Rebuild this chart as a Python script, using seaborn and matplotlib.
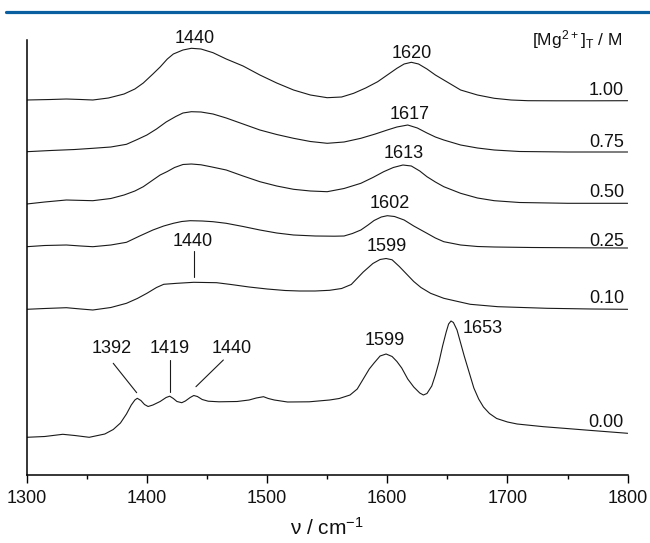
import numpy as np
import pandas as pd
import matplotlib
matplotlib.use("Agg")
import matplotlib.pyplot as plt
from matplotlib.lines import Line2D
import seaborn as sns

# ---- data (stacked intensities, arbitrary units) ----
conc_labels = ["1.00", "0.75", "0.50", "0.25", "0.10", "0.00"]

wn_100 = [1300, 1320, 1333, 1345, 1355, 1368, 1381, 1390, 1397, 1405, 1411, 1417, 1422, 1430, 1437, 1445,
          1455, 1466, 1480, 1494, 1508, 1522, 1536, 1550, 1562, 1572, 1582, 1592, 1600, 1608, 1614, 1620,
          1626, 1633, 1640, 1647, 1654, 1661, 1675, 1689, 1703, 1717, 1740, 1770, 1800]
px_100 = [100, 99.5, 99, 99.5, 100, 98, 94, 89, 83, 74, 67, 59, 54, 50, 48.3, 49,
          52.7, 59, 66, 75, 83, 90, 95, 97.7, 97, 93.3, 88, 81.7, 75, 68.3, 64, 62.3,
          64, 69, 75, 80, 85, 90, 95, 98.3, 100, 100.7, 100.8, 100.8, 100.7]

wn_075 = [1300, 1320, 1340, 1355, 1370, 1383, 1392, 1400, 1408, 1416, 1424, 1430, 1437, 1445, 1455, 1466,
          1480, 1494, 1508, 1522, 1536, 1550, 1564, 1578, 1590, 1600, 1608, 1617, 1625, 1633, 1640, 1647,
          1661, 1675, 1689, 1710, 1750, 1800]
px_075 = [151.7, 150.5, 149.5, 148.3, 147, 144.3, 139.5, 135, 129, 122, 116.5, 113, 111.7, 112, 114, 118,
          124, 130, 134.5, 138.3, 141.5, 143.3, 142, 138.3, 134, 130, 127, 125, 128, 133, 137, 140,
          145, 148, 150, 151.5, 152, 152]

wn_050 = [1300, 1315, 1333, 1355, 1370, 1381, 1390, 1397, 1405, 1411, 1417, 1423, 1430, 1437, 1445, 1453,
          1466, 1480, 1494, 1508, 1522, 1536, 1550, 1564, 1578, 1588, 1597, 1605, 1613, 1620, 1627, 1633,
          1640, 1647, 1661, 1675, 1689, 1710, 1750, 1800]
px_050 = [204, 202, 200, 200.7, 198.5, 195, 191, 186.7, 180, 175, 171.5, 167.5, 164.5, 164, 164.8, 166.7,
          170, 176, 181.7, 186, 189.3, 191, 191.7, 188.5, 183.3, 177.5, 171.7, 167.5, 165, 166, 171, 176.7,
          182, 186.7, 193.3, 198, 200.7, 202.5, 203.3, 203.3]

wn_025 = [1300, 1315, 1333, 1345, 1355, 1370, 1383, 1394, 1405, 1414, 1422, 1429, 1436, 1446, 1455, 1466,
          1480, 1494, 1508, 1522, 1540, 1556, 1564, 1571, 1578, 1584, 1589, 1595, 1600, 1606, 1614, 1622,
          1633, 1640, 1647, 1661, 1675, 1689, 1720, 1760, 1800]
px_025 = [246.7, 245.5, 245, 246, 246.7, 245, 242.3, 236, 230, 226, 223.3, 221.5, 220.7, 221, 221.7, 223.3,
          226.5, 230, 233, 235, 236, 236.2, 236, 233.5, 230, 225, 220.5, 217, 215.7, 216.5, 220, 226,
          233.3, 238, 241.7, 245, 246.5, 247, 247.5, 247.8, 248]

wn_010 = [1300, 1315, 1333, 1345, 1355, 1370, 1383, 1392, 1400, 1408, 1414, 1425, 1439, 1458, 1470, 1485,
          1500, 1515, 1527, 1540, 1552, 1562, 1570, 1580, 1588, 1594, 1599, 1604, 1610, 1616, 1622, 1628,
          1636, 1647, 1655, 1669, 1692, 1733, 1770, 1800]
px_010 = [309.3, 308.5, 307.7, 309, 310, 307.5, 303.3, 298.5, 293.3, 287.5, 284.3, 283.3, 282.3, 282.7, 284.5, 287,
          289, 290.5, 291, 291, 290.3, 288.5, 284.5, 272, 263.5, 259.5, 258.5, 259.8, 266.5, 274, 281.5, 287.5,
          293.3, 298.3, 300.5, 304.3, 306.7, 308.3, 309, 309.3]

wn_000 = [1300, 1315, 1330, 1340, 1352, 1365, 1372, 1378, 1383, 1387, 1390, 1392, 1395, 1398, 1401, 1405,
          1411, 1416, 1419, 1422, 1425, 1429, 1432, 1436, 1439, 1442, 1446, 1451, 1460, 1475, 1485, 1491,
          1497, 1501, 1506, 1517, 1535, 1552, 1560, 1569, 1575, 1580, 1585, 1589, 1594, 1599, 1604, 1608,
          1612, 1617, 1622, 1627, 1630, 1633, 1637, 1640, 1643, 1646, 1649, 1651, 1653, 1655, 1658, 1661,
          1664, 1668, 1672, 1676, 1680, 1685, 1691, 1700, 1708, 1730, 1747, 1770, 1800]
px_000 = [437.3, 436.5, 434.3, 435.5, 437.3, 434, 429.5, 423, 414, 405, 400, 398.3, 400.5, 404.5, 406.5, 405,
          401.5, 397.5, 396.2, 398.5, 401.5, 402.7, 401, 397.5, 395.5, 396.5, 399.5, 401.2, 401.8, 401.5, 400, 398,
          396.7, 398.5, 400, 402, 401.8, 400, 398.5, 395, 389, 379, 369, 363, 356, 354, 356.5, 361.5,
          368, 379, 387, 393, 395, 393.5, 386, 375, 362, 346, 332, 324, 321, 322.5, 330, 343,
          356, 372, 388, 399, 407, 413.5, 418.5, 422, 424, 426.7, 428.3, 430.5, 433.3]

# peak labels: (text, x_wn, y_value)
peak_labels = [("1440", 1439.6, 4.32), ("1620", 1620.0, 4.167), ("1617", 1618.6, 3.555),
               ("1613", 1613.4, 3.17), ("1602", 1602.0, 2.67), ("1599", 1599.2, 2.24),
               ("1440", 1438.3, 2.29), ("1392", 1370.6, 1.22), ("1419", 1419.0, 1.22),
               ("1440", 1470.6, 1.22), ("1599", 1598.2, 1.30), ("1653", 1679.5, 1.42)]
# leader lines: ((x0, y0), (x1, y1))
leaders = [((1439.6, 2.24), (1439.6, 1.98)),
           ((1372.0, 1.117), (1391.5, 0.823)),
           ((1419.2, 1.15), (1419.2, 0.833)),
           ((1463.6, 1.15), (1440.8, 0.883))]
conc_label_y = [3.80, 3.28, 2.78, 2.285, 1.72, 0.48]

# ---- build long-form table ----
series = [(wn_100, px_100), (wn_075, px_075), (wn_050, px_050),
          (wn_025, px_025), (wn_010, px_010), (wn_000, px_000)]
rows = []
for lab, (w, p) in zip(conc_labels, series):
    for xi, pi in zip(w, p):
        rows.append((lab, xi, (475.0 - pi) / 100.0))
df = pd.DataFrame(rows, columns=["conc", "wn", "value"])

# ---- style ----
sns.set_style("ticks")
plt.rcParams["font.family"] = ["Liberation Sans", "DejaVu Sans"]
plt.rcParams["mathtext.default"] = "regular"

fig = plt.figure(figsize=(6.5, 5.43), dpi=100)
ax = fig.add_axes([26.7 / 650, 1 - 475 / 543, (627.7 - 26.7) / 650, (475 - 40) / 543])

sns.lineplot(data=df, x="wn", y="value", units="conc", estimator=None, sort=True,
             color="#1a1a1a", lw=0.8, ax=ax, legend=False)

ax.set_xlim(1300, 1800)
ax.set_ylim(0, 4.35)
ax.set_yticks([])
ax.set_ylabel("")
ax.set_xticks([1300, 1400, 1500, 1600, 1700, 1800])
ax.set_xticks([1350, 1450, 1550, 1650, 1750], minor=True)
ax.tick_params(axis="x", which="major", direction="out", length=5.5, width=1.0,
               labelsize=13, pad=5.5, color="black", labelcolor="#111111")
ax.tick_params(axis="x", which="minor", direction="out", length=3.2, width=1.0, color="black")
for s in ["top", "right"]:
    ax.spines[s].set_visible(False)
for s in ["left", "bottom"]:
    ax.spines[s].set_linewidth(1.1)
    ax.spines[s].set_color("black")

ax.set_xlabel(r"ν / cm$^{-1}$", fontsize=15, labelpad=7, color="#111111")

for txt, xw, yv in peak_labels:
    ax.text(xw, yv, txt, ha="center", va="baseline", fontsize=13, color="#111111", clip_on=False)
for (x0, y0), (x1, y1) in leaders:
    ax.plot([x0, x1], [y0, y1], color="#1a1a1a", lw=0.8)
for lab, yv in zip(conc_labels, conc_label_y):
    ax.text(1796.9, yv, lab, ha="right", va="baseline", fontsize=13, color="#111111")
ax.text(1796.0, 4.30, r"[Mg$^{2+}$]$_{T}$ / M", ha="right", va="baseline", fontsize=12.5,
        color="#111111", clip_on=False)

# header rule
fig.add_artist(Line2D([0.0095, 1.0], [1 - 12 / 543, 1 - 12 / 543], transform=fig.transFigure,
                      color="#0a5fa0", lw=2.3))

fig.savefig("out.png", dpi=100)
